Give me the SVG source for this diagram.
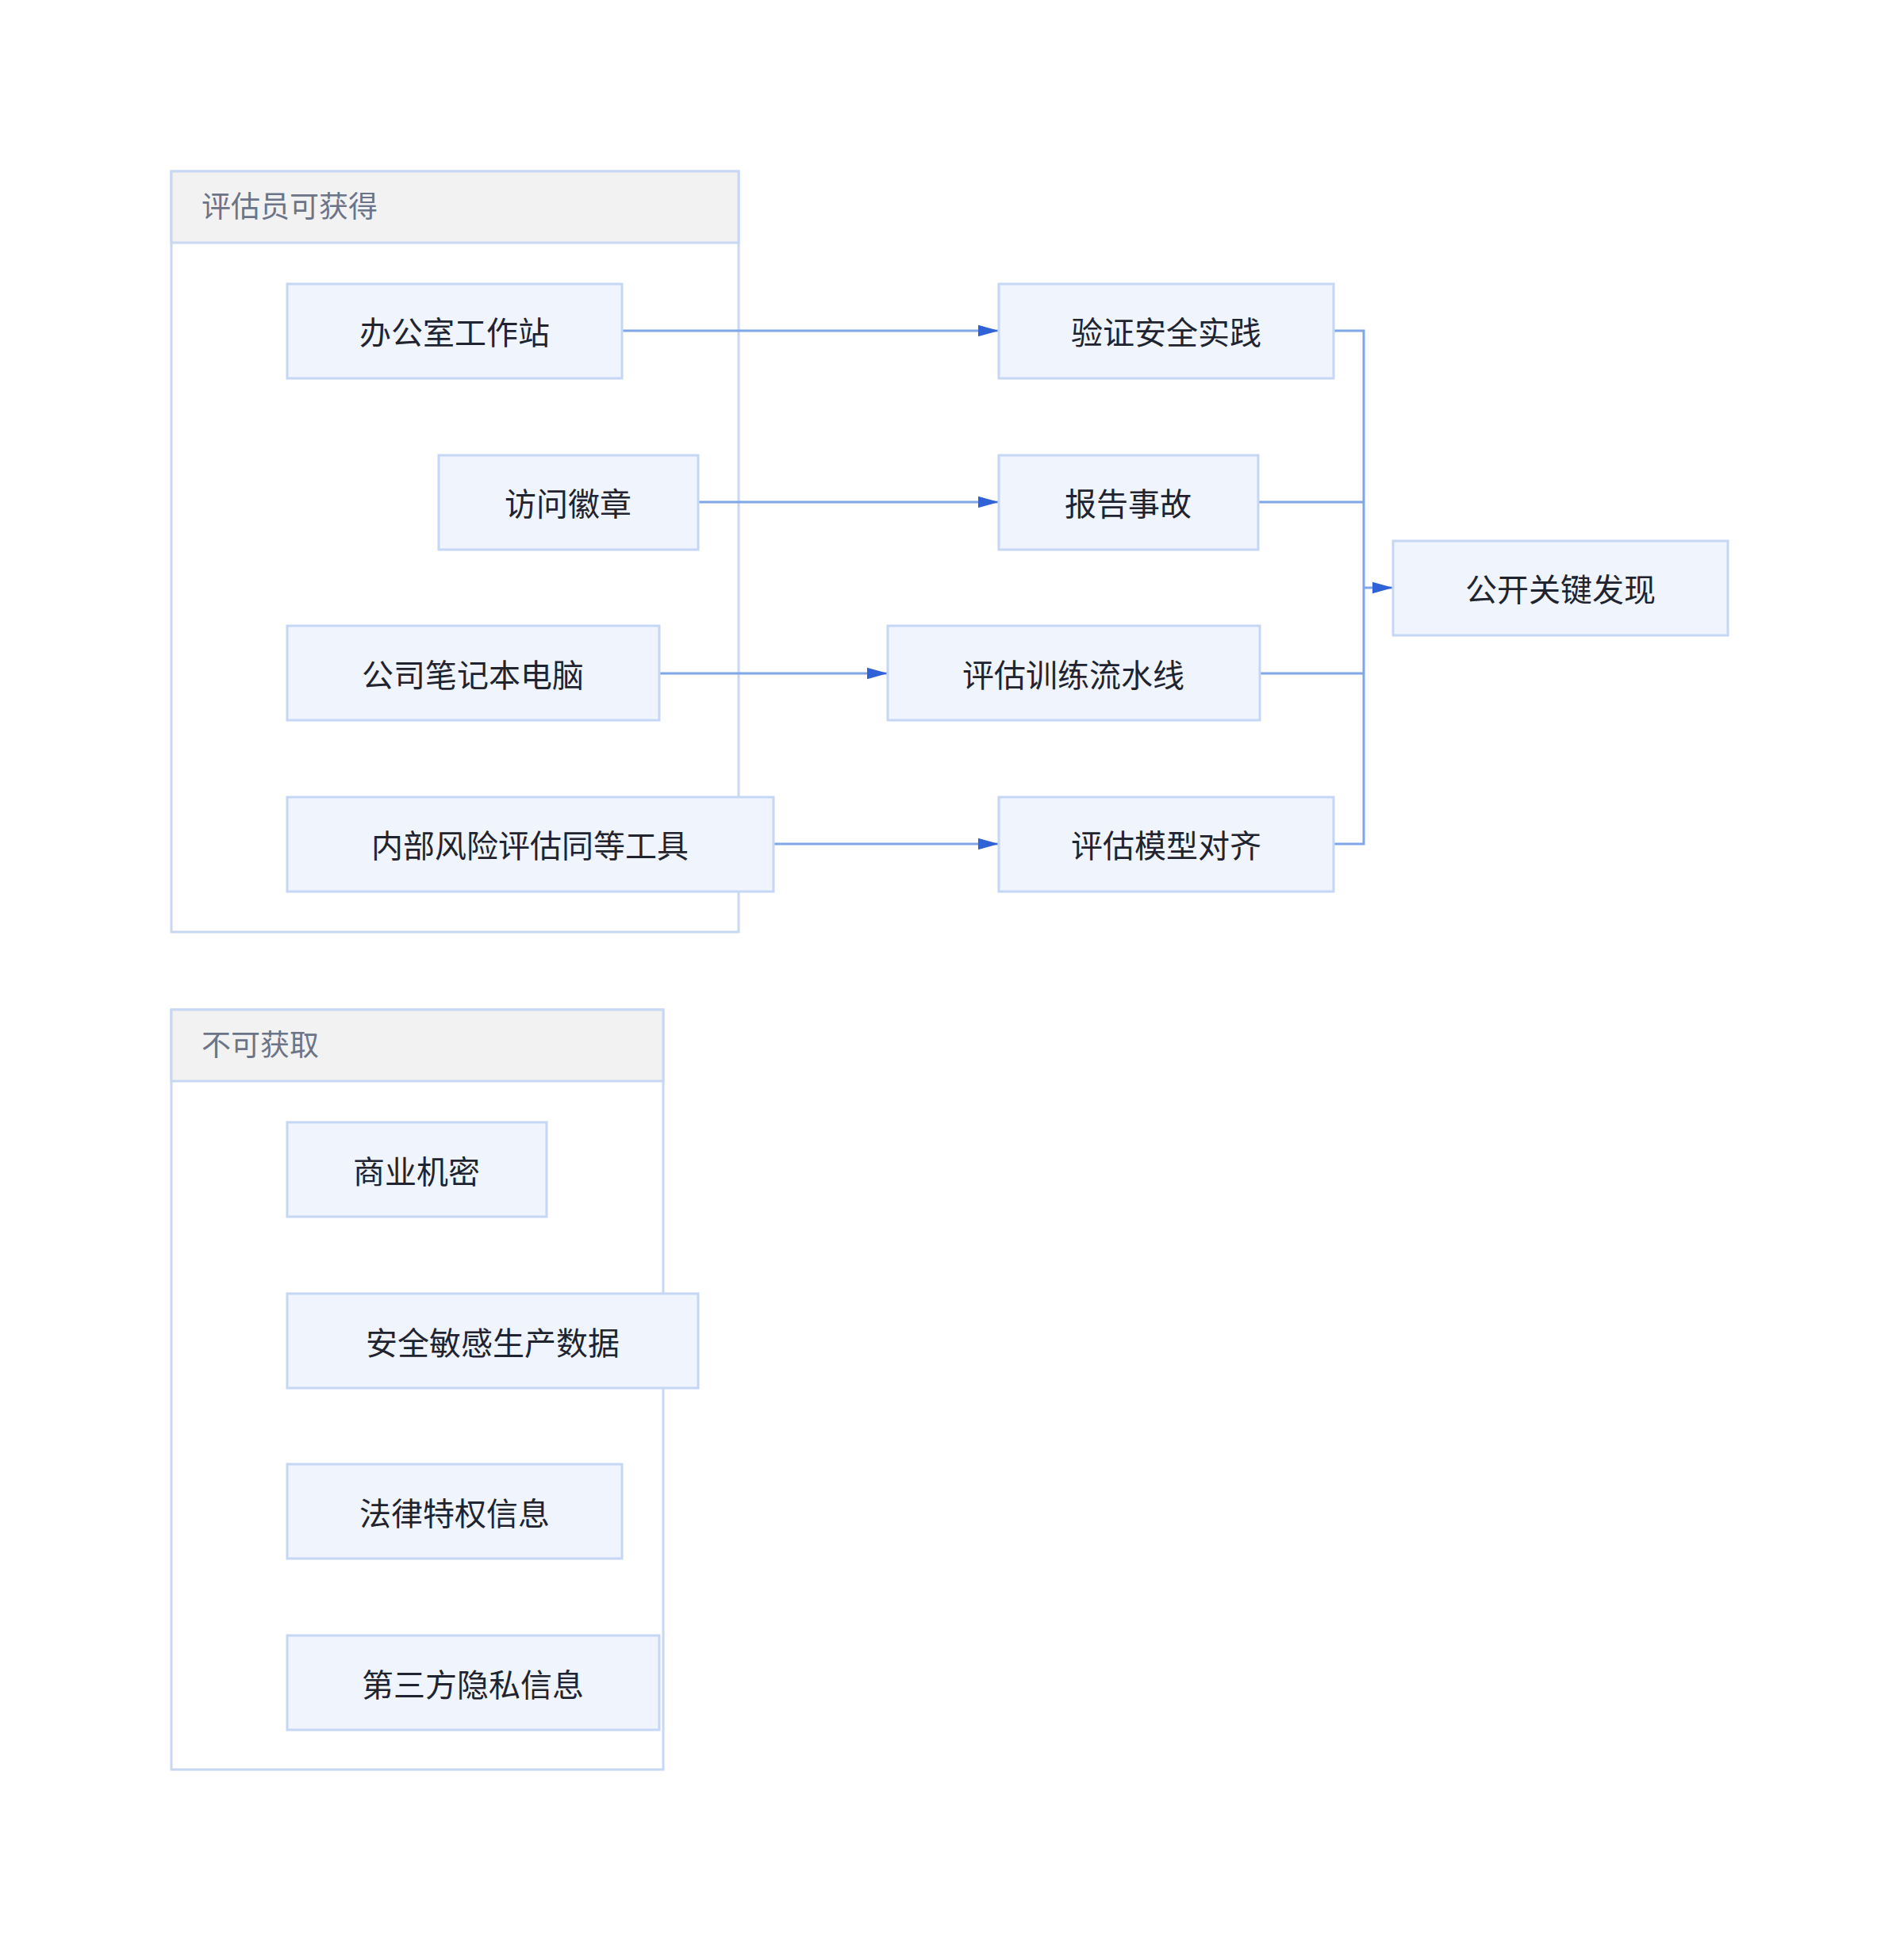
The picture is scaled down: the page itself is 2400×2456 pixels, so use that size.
<svg xmlns="http://www.w3.org/2000/svg" width="2400" height="2456" viewBox="0 0 2400 2456">
<style>
.cl{fill:#fff;stroke:#c9d8f2;stroke-width:3}
.hd{fill:#f2f2f2;stroke:#c9d8f2;stroke-width:3}
.ht{font-family:"Noto Sans CJK SC",sans-serif;font-size:37px;fill:#6b7489}
.n rect{fill:#eff4fd;stroke:#c6d6f5;stroke-width:3}
.n text{font-family:"Noto Sans CJK SC",sans-serif;font-size:40px;fill:#1f2430;text-anchor:middle;dominant-baseline:central}
.e{fill:none;stroke:#7ea6e8;stroke-width:3}
</style>
<defs><marker id="a" viewBox="0 0 10 10" refX="10" refY="5" markerWidth="8" markerHeight="8" markerUnits="userSpaceOnUse" orient="auto"><path d="M0,1L10,5L0,9z" fill="#2f62d6"/></marker>
<marker id="b" viewBox="0 0 10 10" refX="10" refY="5" markerWidth="26" markerHeight="18" markerUnits="userSpaceOnUse" orient="auto" preserveAspectRatio="none"><path d="M0,1L10,5L0,9z" fill="#2f62d6"/></marker></defs>
<rect width="2400" height="2456" fill="#fff"/>
<g id="cluster-avail"><rect class="cl" x="216" y="216" width="715" height="959"/><rect class="hd" x="216" y="216" width="715" height="90"/><text class="ht" x="254" y="274">评估员可获得</text></g>
<g id="cluster-unavail"><rect class="cl" x="216" y="1273" width="620" height="958"/><rect class="hd" x="216" y="1273" width="620" height="90"/><text class="ht" x="254" y="1331">不可获取</text></g>
<g id="edges">
<path class="e" d="M784,417H1259" marker-end="url(#b)"/>
<path class="e" d="M880,633H1259" marker-end="url(#b)"/>
<path class="e" d="M831,849H1119" marker-end="url(#b)"/>
<path class="e" d="M975,1064H1259" marker-end="url(#b)"/>
<path class="e" d="M1681,417H1719V1064H1681M1586,633H1719M1588,849H1719M1719,741H1756" marker-end="url(#b)"/>
</g>
<g id="n1" class="n"><rect x="362" y="358" width="422" height="119"/><text x="573" y="417">办公室工作站</text></g>
<g id="n2" class="n"><rect x="553" y="574" width="327" height="119"/><text x="716" y="633">访问徽章</text></g>
<g id="n3" class="n"><rect x="362" y="789" width="469" height="119"/><text x="596" y="849">公司笔记本电脑</text></g>
<g id="n4" class="n"><rect x="362" y="1005" width="613" height="119"/><text x="668" y="1064">内部风险评估同等工具</text></g>
<g id="n5" class="n"><rect x="1259" y="358" width="422" height="119"/><text x="1470" y="417">验证安全实践</text></g>
<g id="n6" class="n"><rect x="1259" y="574" width="327" height="119"/><text x="1422" y="633">报告事故</text></g>
<g id="n7" class="n"><rect x="1119" y="789" width="469" height="119"/><text x="1353" y="849">评估训练流水线</text></g>
<g id="n8" class="n"><rect x="1259" y="1005" width="422" height="119"/><text x="1470" y="1064">评估模型对齐</text></g>
<g id="n9" class="n"><rect x="1756" y="682" width="422" height="119"/><text x="1967" y="741">公开关键发现</text></g>
<g id="n10" class="n"><rect x="362" y="1415" width="327" height="119"/><text x="525" y="1475">商业机密</text></g>
<g id="n11" class="n"><rect x="362" y="1631" width="518" height="119"/><text x="621" y="1691">安全敏感生产数据</text></g>
<g id="n12" class="n"><rect x="362" y="1846" width="422" height="119"/><text x="573" y="1906">法律特权信息</text></g>
<g id="n13" class="n"><rect x="362" y="2062" width="469" height="119"/><text x="596" y="2122">第三方隐私信息</text></g>
</svg>
